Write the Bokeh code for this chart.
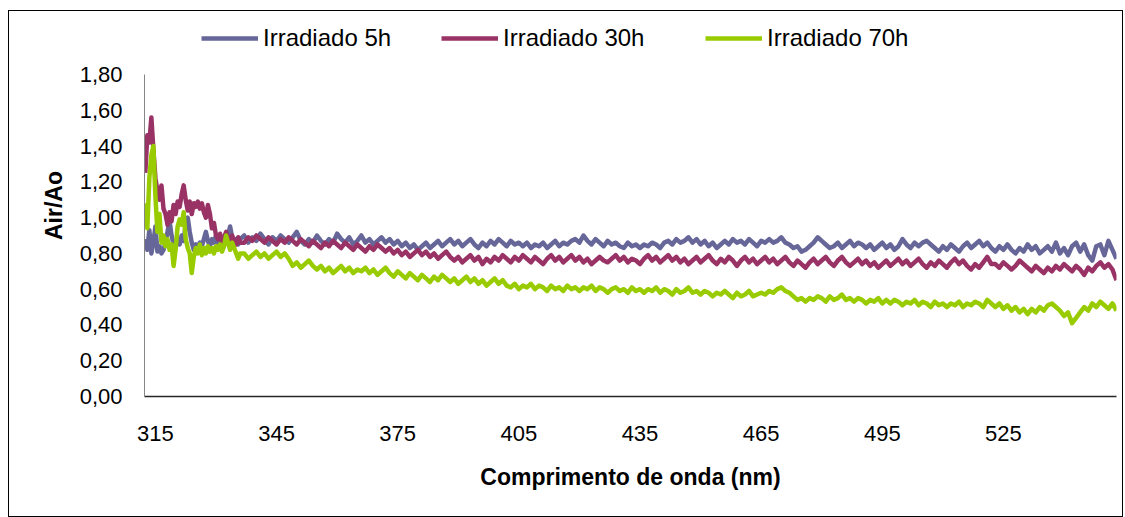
import numpy as np
from bokeh.plotting import figure
from bokeh.models import Range1d, FixedTicker, Legend, LegendItem, InlineStyleSheet
from bokeh.embed import file_html
from bokeh.resources import INLINE

# Wavelength grid (nm): 0.5 nm steps up to 336 nm, then 1 nm steps to 553 nm
wavelength = np.concatenate([np.arange(312.5, 336.01, 0.5), np.arange(337.0, 553.01, 1.0)])

# Air/Ao ratio for each irradiation time
irradiado_5h = [
    0.88, 0.82, 0.93, 0.80, 0.86, 0.95, 0.81, 0.84,
    0.80, 0.82, 0.86, 0.92, 0.98, 0.90, 0.85, 0.84,
    0.88, 0.85, 0.90, 0.87, 0.96, 1.00, 0.92, 0.86,
    0.82, 0.85, 0.83, 0.86, 0.84, 0.88, 0.92, 0.87,
    0.84, 0.88, 0.86, 0.90, 0.86, 0.88, 0.85, 0.89,
    0.86, 0.90, 0.95, 0.89, 0.86, 0.88, 0.85, 0.88,
    0.90, 0.86, 0.89, 0.87, 0.91, 0.88, 0.85, 0.89, 0.87, 0.90,
    0.88, 0.86, 0.89, 0.92, 0.87, 0.85, 0.88, 0.86, 0.90, 0.87,
    0.85, 0.88, 0.86, 0.91, 0.88, 0.86, 0.89, 0.85, 0.87, 0.90,
    0.86, 0.88, 0.85, 0.87, 0.89, 0.86, 0.88, 0.85, 0.87, 0.84,
    0.86, 0.83, 0.85, 0.82, 0.84, 0.86, 0.83, 0.85, 0.87, 0.84,
    0.86, 0.88, 0.85, 0.87, 0.84, 0.86, 0.88, 0.85, 0.83, 0.86,
    0.84, 0.87, 0.85, 0.88, 0.86, 0.84, 0.87, 0.85, 0.86, 0.84,
    0.86, 0.83, 0.85, 0.84, 0.86, 0.83, 0.85, 0.87, 0.84, 0.86,
    0.85, 0.87, 0.88, 0.86, 0.90, 0.87, 0.85, 0.88, 0.86, 0.84,
    0.87, 0.85, 0.86, 0.84, 0.83, 0.86, 0.84, 0.85, 0.83, 0.85,
    0.84, 0.86, 0.85, 0.83, 0.86, 0.87, 0.85, 0.88, 0.86, 0.87,
    0.89, 0.86, 0.88, 0.85, 0.87, 0.84, 0.86, 0.83, 0.85, 0.87,
    0.85, 0.88, 0.86, 0.87, 0.85, 0.88, 0.86, 0.84, 0.87, 0.86,
    0.88, 0.86, 0.87, 0.89, 0.86, 0.85, 0.83, 0.84, 0.81, 0.82,
    0.84, 0.86, 0.89, 0.87, 0.85, 0.83, 0.84, 0.86, 0.83, 0.85,
    0.87, 0.84, 0.86, 0.85, 0.83, 0.85, 0.82, 0.84, 0.86, 0.83,
    0.85, 0.82, 0.84, 0.88, 0.85, 0.83, 0.86, 0.84, 0.86, 0.87,
    0.85, 0.83, 0.81, 0.84, 0.82, 0.85, 0.83, 0.81, 0.84, 0.86,
    0.83, 0.85, 0.87, 0.84, 0.86, 0.83, 0.81, 0.84, 0.82, 0.85,
    0.82, 0.80, 0.83, 0.81, 0.85, 0.82, 0.84, 0.80, 0.82, 0.84,
    0.81, 0.86, 0.80, 0.83, 0.79, 0.84, 0.86, 0.81, 0.85, 0.79,
    0.76, 0.84, 0.85, 0.79, 0.87, 0.82, 0.77,
]

irradiado_30h = [
    1.25, 1.46, 1.42, 1.56, 1.38, 1.22, 1.15, 1.10,
    1.18, 1.05, 1.02, 0.96, 1.03, 0.98, 1.07, 1.02,
    1.09, 1.06, 1.13, 1.18, 1.10, 1.04, 1.09, 1.02,
    1.08, 1.06, 1.09, 1.05, 1.08, 1.03, 1.00, 1.07,
    1.02, 0.94, 0.97, 0.90, 0.88, 0.91, 0.86, 0.89,
    0.92, 0.88, 0.86, 0.90, 0.87, 0.85, 0.89, 0.86,
    0.86, 0.89, 0.87, 0.90, 0.88, 0.86, 0.89, 0.87, 0.85, 0.88,
    0.86, 0.89, 0.87, 0.85, 0.88, 0.86, 0.84, 0.87, 0.85, 0.83,
    0.86, 0.84, 0.87, 0.85, 0.83, 0.86, 0.84, 0.82, 0.85, 0.83,
    0.81, 0.84, 0.82, 0.85, 0.83, 0.81, 0.83, 0.80, 0.82, 0.79,
    0.81, 0.78, 0.80, 0.82, 0.79, 0.81, 0.78, 0.80, 0.77, 0.79,
    0.81, 0.78, 0.76, 0.78, 0.75, 0.77, 0.79, 0.76, 0.78, 0.74,
    0.77, 0.75, 0.78, 0.76, 0.79, 0.77, 0.75, 0.78, 0.76, 0.79,
    0.77, 0.75, 0.78, 0.76, 0.74, 0.77, 0.79, 0.76, 0.78, 0.75,
    0.77, 0.79, 0.76, 0.78, 0.75, 0.77, 0.74, 0.76, 0.78, 0.76,
    0.75, 0.77, 0.79, 0.76, 0.78, 0.75, 0.77, 0.76, 0.74, 0.77,
    0.79, 0.76, 0.78, 0.75, 0.77, 0.79, 0.76, 0.78, 0.75, 0.77,
    0.74, 0.76, 0.78, 0.75, 0.77, 0.79, 0.76, 0.74, 0.77, 0.75,
    0.78, 0.76, 0.73, 0.76, 0.78, 0.75, 0.77, 0.74, 0.76, 0.78,
    0.75, 0.77, 0.74, 0.76, 0.78, 0.75, 0.73, 0.76, 0.74, 0.72,
    0.75, 0.77, 0.74, 0.76, 0.78, 0.75, 0.73, 0.76, 0.78, 0.75,
    0.73, 0.75, 0.77, 0.74, 0.76, 0.73, 0.75, 0.72, 0.74, 0.76,
    0.73, 0.75, 0.77, 0.74, 0.76, 0.73, 0.75, 0.77, 0.74, 0.72,
    0.75, 0.73, 0.76, 0.74, 0.72, 0.75, 0.77, 0.74, 0.76, 0.73,
    0.71, 0.74, 0.72, 0.75, 0.78, 0.74, 0.74, 0.72, 0.75, 0.73,
    0.71, 0.73, 0.76, 0.74, 0.72, 0.70, 0.73, 0.71, 0.69, 0.72,
    0.70, 0.73, 0.71, 0.74, 0.72, 0.70, 0.73, 0.71, 0.68, 0.72,
    0.70, 0.73, 0.75, 0.72, 0.74, 0.71, 0.65,
]

irradiado_70h = [
    1.08, 0.94, 1.22, 1.35, 1.40, 1.12, 0.92, 1.02,
    0.86, 0.90, 0.84, 0.88, 0.82, 0.85, 0.73, 0.82,
    0.95, 0.99, 0.96, 1.03, 0.88, 0.83, 0.80, 0.69,
    0.78, 0.83, 0.80, 0.85, 0.79, 0.83, 0.80, 0.84,
    0.81, 0.83, 0.80, 0.84, 0.82, 0.85, 0.81, 0.84,
    0.90, 0.86, 0.82, 0.86, 0.83, 0.80, 0.77, 0.80,
    0.80, 0.77, 0.79, 0.81, 0.78, 0.80, 0.77, 0.79, 0.81, 0.78,
    0.80, 0.77, 0.73, 0.75, 0.72, 0.74, 0.76, 0.73, 0.71, 0.73,
    0.70, 0.72, 0.69, 0.71, 0.73, 0.70, 0.72, 0.69, 0.71, 0.70,
    0.72, 0.69, 0.71, 0.68, 0.70, 0.72, 0.69, 0.67, 0.70, 0.68,
    0.66, 0.69, 0.67, 0.65, 0.68, 0.66, 0.64, 0.67, 0.65, 0.68,
    0.66, 0.64, 0.66, 0.63, 0.65, 0.67, 0.64, 0.66, 0.63, 0.65,
    0.62, 0.64, 0.66, 0.63, 0.65, 0.62, 0.61, 0.63, 0.60, 0.62,
    0.61, 0.63, 0.60, 0.62, 0.61, 0.59, 0.62, 0.60, 0.61, 0.59,
    0.62, 0.60, 0.61, 0.59, 0.61, 0.60, 0.62, 0.59, 0.61, 0.60,
    0.58, 0.60, 0.61, 0.59, 0.60, 0.58, 0.61, 0.59, 0.60, 0.58,
    0.60, 0.59, 0.61, 0.58, 0.60, 0.59, 0.57, 0.60, 0.58, 0.59,
    0.61, 0.58, 0.59, 0.57, 0.59, 0.58, 0.56, 0.58, 0.57, 0.59,
    0.57, 0.55, 0.58, 0.56, 0.57, 0.59, 0.56, 0.57, 0.58, 0.57,
    0.59, 0.58, 0.60, 0.61, 0.59, 0.58, 0.56, 0.54, 0.55, 0.53,
    0.55, 0.54, 0.56, 0.55, 0.53, 0.56, 0.54, 0.55, 0.57, 0.54,
    0.55, 0.53, 0.55, 0.54, 0.52, 0.54, 0.53, 0.55, 0.52, 0.54,
    0.52, 0.54, 0.53, 0.51, 0.53, 0.52, 0.54, 0.51, 0.53, 0.52,
    0.50, 0.53, 0.51, 0.52, 0.50, 0.52, 0.51, 0.53, 0.50, 0.52,
    0.51, 0.53, 0.52, 0.50, 0.54, 0.52, 0.50, 0.52, 0.49, 0.51,
    0.48, 0.50, 0.47, 0.49, 0.46, 0.49, 0.47, 0.50, 0.48, 0.51,
    0.52, 0.50, 0.48, 0.45, 0.47, 0.41, 0.44, 0.47, 0.50, 0.48,
    0.52, 0.50, 0.53, 0.51, 0.49, 0.52, 0.48,
]

series_names = ["Irradiado 5h", "Irradiado 30h", "Irradiado 70h"]
series_colors = ["#666699", "#993366", "#99CC00"]
series_values = [irradiado_5h, irradiado_30h, irradiado_70h]

x_ticks = [315, 345, 375, 405, 435, 465, 495, 525]
y_ticks = [0.0, 0.2, 0.4, 0.6, 0.8, 1.0, 1.2, 1.4, 1.6, 1.8]
y_tick_labels = ["0,00", "0,20", "0,40", "0,60", "0,80", "1,00", "1,20", "1,40", "1,60", "1,80"]

for vals in series_values:
    assert len(vals) == len(wavelength)

FONT = "Liberation Sans"

# thin frame drawn around the whole chart
chart_border = InlineStyleSheet(css="""
:host::after {
  content: "";
  position: absolute;
  left: 8px; top: 10px; width: 1113px; height: 505px;
  border: 1px solid #000000;
  pointer-events: none;
}
""")

# the plot frame reaches up to the legend row; the y axis itself stops at 1.80
p = figure(
    width=1125, height=517,
    output_backend="svg", toolbar_location=None,
    x_range=Range1d(312.3, 553.0), y_range=Range1d(0.0, 2.1354),
    min_border_left=144, min_border_right=9, min_border_top=14, min_border_bottom=121,
    background_fill_color="white", border_fill_color="white",
    stylesheets=[chart_border],
)
p.outline_line_color = None
p.grid.visible = False

renderers = []
for name, color, vals in zip(series_names, series_colors, series_values):
    r = p.line(wavelength, vals, line_color=color, line_width=4.5, line_join="round")
    renderers.append(r)

# axes
p.xaxis.ticker = FixedTicker(ticks=x_ticks)
p.yaxis.ticker = FixedTicker(ticks=y_ticks)
p.yaxis.bounds = (0.0, 1.8)
p.yaxis.major_label_overrides = {t: lab for t, lab in zip(y_ticks, y_tick_labels)}

for ax in (p.xaxis[0], p.yaxis[0]):
    ax.major_tick_line_color = None
    ax.minor_tick_line_color = None
    ax.major_tick_out = 0
    ax.major_tick_in = 0
    ax.minor_tick_out = 0
    ax.minor_tick_in = 0
    ax.major_label_text_font = FONT
    ax.major_label_text_font_size = "22px"
    ax.major_label_text_color = "black"
    ax.axis_label_text_font = FONT
    ax.axis_label_text_font_size = "23px"
    ax.axis_label_text_font_style = "bold"
    ax.axis_label_text_color = "black"

p.xaxis.axis_line_color = "#262626"
p.xaxis.axis_line_width = 1.5
p.yaxis.axis_line_color = "#868686"
p.yaxis.axis_line_width = 1

p.xaxis.axis_label = "Comprimento de onda (nm)"
p.yaxis.axis_label = "Air/Ao"
p.xaxis.major_label_standoff = 29
p.xaxis.axis_label_standoff = 20
p.yaxis.major_label_standoff = 22
p.yaxis.axis_label_standoff = 10

# one legend entry per series, in a row above the curves
legend_x = [57, 297, 561]
for name, r, vx in zip(series_names, renderers, legend_x):
    leg = Legend(
        items=[LegendItem(label=name, renderers=[r])],
        location=(vx, 344),
        orientation="horizontal",
        label_text_font=FONT,
        label_text_font_size="24px",
        label_text_color="black",
        glyph_width=57,
        glyph_height=20,
        label_standoff=5,
        padding=0,
        margin=0,
        spacing=0,
        border_line_color=None,
        background_fill_alpha=0,
    )
    p.add_layout(leg, "center")

open("out.html", "w").write(file_html(p, INLINE))
